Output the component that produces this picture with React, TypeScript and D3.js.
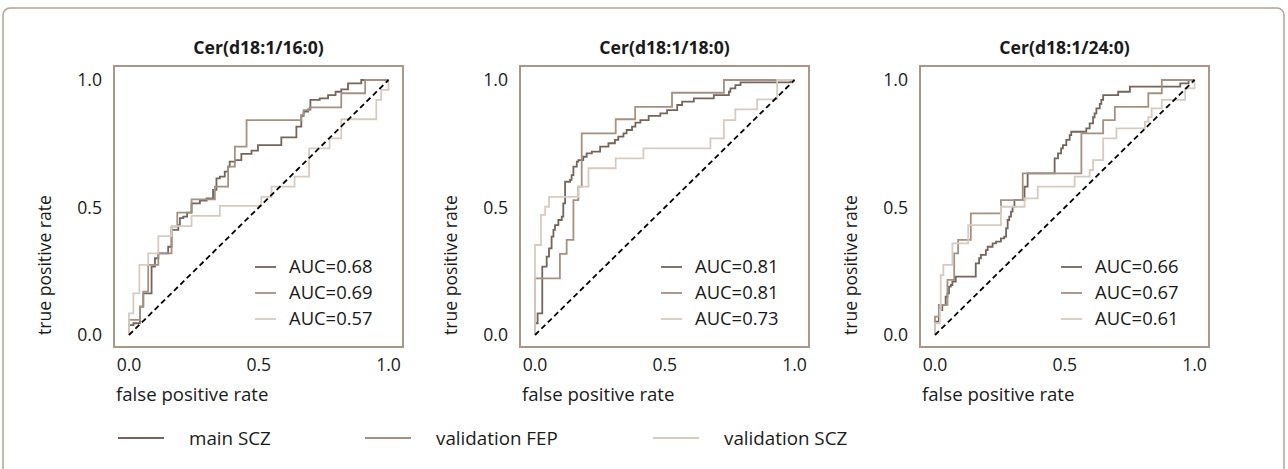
import React from "react";
import * as d3 from "d3";

type Pt = [number, number];

const panelTitles = ["Cer(d18:1/16:0)", "Cer(d18:1/18:0)", "Cer(d18:1/24:0)"];
const seriesNames = ["main SCZ", "validation FEP", "validation SCZ"];
const auc16 = [0.68, 0.69, 0.57];
const auc18 = [0.81, 0.81, 0.73];
const auc24 = [0.66, 0.67, 0.61];
const tickValues = [0, 0.5, 1];

// ROC points: [fpr where the step happens, tpr level after the step]
const roc16Main: Pt[] = [
  [0, 0.039], [0.017, 0.046], [0.042, 0.111], [0.055, 0.163], [0.087, 0.268], [0.1, 0.301],
  [0.113, 0.32], [0.151, 0.346], [0.164, 0.412], [0.19, 0.431], [0.196, 0.458], [0.209, 0.464],
  [0.224, 0.48], [0.241, 0.516], [0.273, 0.527], [0.299, 0.536], [0.324, 0.569], [0.337, 0.614],
  [0.35, 0.621], [0.369, 0.641], [0.382, 0.66], [0.388, 0.68], [0.408, 0.686], [0.433, 0.71],
  [0.472, 0.723], [0.497, 0.745], [0.587, 0.775], [0.645, 0.817], [0.664, 0.859], [0.673, 0.876],
  [0.69, 0.885], [0.699, 0.922], [0.735, 0.928], [0.767, 0.941], [0.796, 0.954], [0.818, 0.963],
  [0.844, 0.987], [0.895, 1.0], [1, 1],
];
const roc16Fep: Pt[] = [
  [0, 0.059], [0.042, 0.111], [0.055, 0.17], [0.074, 0.275], [0.113, 0.32], [0.164, 0.425],
  [0.186, 0.48], [0.241, 0.532], [0.331, 0.582], [0.382, 0.66], [0.408, 0.739], [0.453, 0.843],
  [0.664, 0.863], [0.673, 0.882], [0.696, 0.893], [0.818, 0.948], [0.91, 1.0], [1, 1],
];
const roc16Scz: Pt[] = [
  [0, 0.085], [0.017, 0.163], [0.04, 0.275], [0.074, 0.32], [0.113, 0.388], [0.164, 0.427],
  [0.241, 0.467], [0.35, 0.506], [0.51, 0.542], [0.549, 0.582], [0.638, 0.621], [0.694, 0.732],
  [0.773, 0.771], [0.818, 0.846], [0.953, 0.922], [0.972, 0.961], [1, 1],
];

const roc18Main: Pt[] = [
  [0, 0.046], [0.01, 0.085], [0.028, 0.268], [0.045, 0.307], [0.054, 0.34], [0.064, 0.386],
  [0.071, 0.412], [0.077, 0.431], [0.09, 0.451], [0.103, 0.464], [0.109, 0.516], [0.116, 0.601],
  [0.135, 0.608], [0.141, 0.627], [0.148, 0.66], [0.161, 0.68], [0.167, 0.686], [0.186, 0.699],
  [0.199, 0.712], [0.219, 0.719], [0.251, 0.739], [0.283, 0.752], [0.308, 0.765], [0.321, 0.778],
  [0.341, 0.791], [0.353, 0.804], [0.374, 0.817], [0.387, 0.833], [0.406, 0.843], [0.438, 0.859],
  [0.483, 0.869], [0.509, 0.882], [0.548, 0.902], [0.567, 0.915], [0.612, 0.928], [0.689, 0.941],
  [0.747, 0.954], [0.753, 0.967], [0.772, 0.98], [0.792, 0.991], [0.985, 1.0], [1, 1],
];
const roc18Fep: Pt[] = [
  [0, 0.222], [0.096, 0.318], [0.122, 0.373], [0.148, 0.529], [0.167, 0.582], [0.18, 0.791],
  [0.311, 0.846], [0.386, 0.895], [0.528, 0.95], [0.728, 1.0], [1, 1],
];
const roc18Scz: Pt[] = [
  [0, 0.353], [0.023, 0.471], [0.039, 0.503], [0.054, 0.542], [0.167, 0.582], [0.206, 0.654],
  [0.311, 0.693], [0.418, 0.732], [0.676, 0.771], [0.728, 0.843], [0.772, 0.885], [0.856, 0.924],
  [0.933, 1.0], [1, 1],
];

const roc24Main: Pt[] = [
  [0, 0.052], [0.015, 0.098], [0.028, 0.118], [0.041, 0.15], [0.048, 0.163], [0.054, 0.19],
  [0.061, 0.196], [0.067, 0.209], [0.08, 0.229], [0.157, 0.281], [0.17, 0.301], [0.177, 0.314],
  [0.196, 0.333], [0.203, 0.346], [0.222, 0.359], [0.235, 0.366], [0.254, 0.379], [0.267, 0.386],
  [0.274, 0.418], [0.28, 0.451], [0.286, 0.464], [0.293, 0.484], [0.299, 0.503], [0.306, 0.529],
  [0.345, 0.582], [0.357, 0.634], [0.461, 0.693], [0.474, 0.712], [0.486, 0.732], [0.493, 0.745],
  [0.506, 0.765], [0.519, 0.784], [0.525, 0.797], [0.583, 0.81], [0.596, 0.83], [0.609, 0.854],
  [0.615, 0.869], [0.622, 0.889], [0.635, 0.906], [0.641, 0.922], [0.648, 0.941], [0.706, 0.954],
  [0.751, 0.974], [0.945, 0.987], [0.977, 1.0], [1, 1],
];
const roc24Fep: Pt[] = [
  [0, 0.072], [0.015, 0.118], [0.048, 0.216], [0.074, 0.32], [0.089, 0.373], [0.138, 0.477],
  [0.254, 0.529], [0.338, 0.634], [0.564, 0.791], [0.648, 0.843], [0.693, 0.895], [0.822, 0.948],
  [0.874, 1.0], [1, 1],
];
const roc24Scz: Pt[] = [
  [0, 0.046], [0.019, 0.098], [0.022, 0.235], [0.032, 0.275], [0.067, 0.359], [0.128, 0.431],
  [0.254, 0.503], [0.345, 0.536], [0.396, 0.582], [0.538, 0.621], [0.596, 0.647], [0.609, 0.686],
  [0.648, 0.771], [0.699, 0.81], [0.809, 0.837], [0.822, 0.854], [0.835, 0.889], [0.874, 0.922],
  [0.964, 0.967], [1, 1],
];

const panels = [
  { title: panelTitles[0], auc: auc16, curves: [roc16Main, roc16Fep, roc16Scz] },
  { title: panelTitles[1], auc: auc18, curves: [roc18Main, roc18Fep, roc18Scz] },
  { title: panelTitles[2], auc: auc24, curves: [roc24Main, roc24Fep, roc24Scz] },
];

const colors = ["#74645b", "#a49181", "#d6cbc0"];
const frameColor = "#a9978a";
const textColor = "#1a1a1a";
const FONT = "'Open Sans', 'Noto Sans', sans-serif";

const panelLefts = [114, 520, 920];
const frameW = 289;
const frameTop = 66;
const frameH = 281;

function Panel({ idx }: { idx: number }) {
  const p = panels[idx];
  const left = panelLefts[idx];
  const x = d3.scaleLinear().domain([0, 1]).range([left + 15, left + 274.5]);
  const y = d3.scaleLinear().domain([0, 1]).range([frameTop + 269, frameTop + 14]);
  const line = d3
    .line<Pt>()
    .x((d) => x(d[0]))
    .y((d) => y(d[1]))
    .curve(d3.curveStepAfter);
  const diag = d3.line<Pt>().x((d) => x(d[0])).y((d) => y(d[1]));
  const cx = left + frameW / 2;
  return (
    <g>
      <text x={cx} y={54} textAnchor="middle" fontFamily={FONT} fontWeight={700} fontSize={17.6} fill={textColor}>
        {p.title}
      </text>
      <rect x={left} y={frameTop} width={frameW} height={frameH} fill="none" stroke={frameColor} strokeWidth={2} />
      {p.curves.map((c, i) => (
        <path key={i} d={line([[0, 0] as Pt, ...c]) || ""} fill="none" stroke={colors[i]} strokeWidth={1.8} />
      ))}
      <path d={diag([[0, 0], [1, 1]]) || ""} fill="none" stroke="#000" strokeWidth={1.8} strokeDasharray="5.5,3.5" />
      {tickValues.map((t) => (
        <text key={"x" + t} x={x(t)} y={frameTop + frameH + 24} textAnchor="middle" fontFamily={FONT} fontSize={17.6} fill={textColor}>
          {d3.format(".1f")(t)}
        </text>
      ))}
      {tickValues.map((t) => (
        <text key={"y" + t} x={left - 12} y={y(t)} dy="0.35em" textAnchor="end" fontFamily={FONT} fontSize={17.6} fill={textColor}>
          {d3.format(".1f")(t)}
        </text>
      ))}
      <text x={left + 2} y={frameTop + frameH + 54} fontFamily={FONT} fontSize={18.6} fill={textColor}>
        false positive rate
      </text>
      <text transform={`translate(${left - 63},${y(0)}) rotate(-90)`} fontFamily={FONT} fontSize={17.6} fill={textColor}>
        true positive rate
      </text>
      {p.auc.map((a, i) => {
        const ly = 267 + i * 26;
        return (
          <g key={"l" + i}>
            <line x1={left + 141} x2={left + 162} y1={ly} y2={ly} stroke={colors[i]} strokeWidth={1.8} />
            <text x={left + 175} y={ly} dy="0.35em" fontFamily={FONT} fontSize={18.4} fill={textColor}>
              {`AUC=${a.toFixed(2)}`}
            </text>
          </g>
        );
      })}
    </g>
  );
}

const legendLineX = [118, 365, 653];

export default function App() {
  return (
    <svg width={1288} height={469} style={{ position: "absolute", left: 0, top: 0, background: "#fff" }}>
      <rect x={3} y={8} width={1281} height={480} rx={7} fill="#fff" stroke="#b3a194" strokeWidth={1.5} />
      {panels.map((_, i) => (
        <Panel key={i} idx={i} />
      ))}
      {seriesNames.map((n, i) => (
        <g key={n}>
          <line x1={legendLineX[i]} x2={legendLineX[i] + 46} y1={438} y2={438} stroke={colors[i]} strokeWidth={1.8} />
          <text x={legendLineX[i] + 71} y={438} dy="0.35em" fontFamily={FONT} fontSize={18.8} fill={textColor}>
            {n}
          </text>
        </g>
      ))}
    </svg>
  );
}
